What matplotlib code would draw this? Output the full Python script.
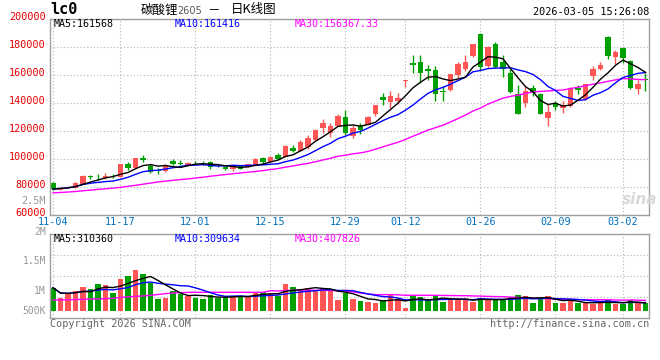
import matplotlib
matplotlib.use("Agg")
import matplotlib.pyplot as plt
import matplotlib.transforms as mtransforms
import numpy as np
import pandas as pd

# trading days shown (month-day)
dates = ["11-04", "11-05", "11-06", "11-07", "11-10", "11-11", "11-12", "11-13", "11-14",
         "11-17", "11-18", "11-19", "11-20", "11-21", "11-24", "11-25", "11-26", "11-27", "11-28",
         "12-01", "12-02", "12-03", "12-04", "12-05", "12-08", "12-09", "12-10", "12-11", "12-12",
         "12-15", "12-16", "12-17", "12-18", "12-19", "12-22", "12-23", "12-24", "12-25", "12-26",
         "12-29", "12-30", "12-31", "01-05", "01-06", "01-07", "01-08", "01-09",
         "01-12", "01-13", "01-14", "01-15", "01-16", "01-19", "01-20", "01-21", "01-22", "01-23",
         "01-26", "01-27", "01-28", "01-29", "01-30", "02-02", "02-03", "02-04", "02-05", "02-06",
         "02-09", "02-10", "02-11", "02-12", "02-13", "02-24", "02-25", "02-26", "02-27",
         "03-02", "03-03", "03-04", "03-05"]
tick_labels = ["11-04", "11-17", "12-01", "12-15", "12-29", "01-12", "01-26", "02-09", "03-02"]

opens = [82700, 78100, 79800, 79500, 82400, 88200, 87500, 86300, 88000, 87500,
         96600, 93700, 100500, 94700, 92000, 91600, 98300, 97400, 95400, 97400,
         97400, 97600, 95000, 94500, 92900, 95000, 94500, 96000, 100500, 98200,
         102600, 101700, 108000, 105900, 108900, 113900, 121800, 118900, 123800, 130200,
         116200, 123700, 124300, 131900, 144300, 140700, 141400, 156000, 168600, 169300,
         164500, 163600, 148600, 149300, 160000, 164000, 173600, 189500, 166400, 182400,
         169300, 161700, 146400, 140200, 151000, 146700, 129000, 140200, 136700, 137900,
         151000, 142600, 159300, 164500, 187100, 173100, 179500, 170000, 150200, 157100]
highs = [83500, 79600, 81000, 83300, 88300, 88900, 89200, 89900, 89500, 96500,
         97600, 101000, 103000, 96100, 93300, 96100, 100000, 99300, 98000, 98800,
         98600, 98800, 95500, 95000, 95900, 95200, 96700, 100500, 101500, 102000,
         104000, 110000, 110000, 113300, 117000, 121200, 128800, 125500, 131900, 135200,
         124400, 125700, 130700, 138800, 147400, 148600, 147400, 156500, 174500, 174500,
         166900, 166400, 152100, 161000, 169500, 174300, 182400, 190200, 180700, 183800,
         174000, 164000, 152900, 151900, 152600, 147000, 139000, 141400, 141400, 151200,
         152900, 153800, 166400, 169500, 187900, 177600, 180000, 170700, 156200, 161700]
lows = [77800, 78000, 79000, 79000, 82400, 86000, 85000, 86000, 86200, 87000,
        92300, 93700, 97700, 90300, 89600, 91000, 95400, 95400, 95400, 95400,
        95900, 92600, 94300, 91900, 91200, 92900, 94000, 95500, 97400, 98000,
        99600, 101500, 104800, 105500, 106900, 113800, 118300, 115900, 123800, 117500,
        114900, 117700, 124000, 131000, 138300, 136700, 139000, 151700, 161700, 154000,
        156200, 141400, 141400, 148600, 158100, 162900, 172900, 163300, 165200, 165000,
        158600, 147100, 132400, 137100, 145000, 132000, 123600, 134800, 133100, 137400,
        146700, 142400, 156400, 163600, 171200, 168100, 168800, 149800, 146200, 148600]
closes = [78500, 79500, 80200, 83000, 88100, 86800, 87000, 87700, 87600, 96200,
          93300, 100400, 99000, 90900, 91100, 95400, 96100, 96400, 96900, 96900,
          96800, 94500, 94800, 92600, 94700, 93100, 96700, 100100, 97600, 101700,
          100100, 109500, 106000, 111800, 115300, 120900, 125500, 123800, 130900, 118900,
          122500, 121000, 130000, 138600, 142100, 145000, 143800, 156400, 167100, 161700,
          163100, 146200, 147900, 161000, 167600, 169500, 182400, 165700, 180200, 165700,
          164000, 147900, 132400, 148600, 147400, 132400, 133800, 137100, 138300, 151000,
          149500, 153300, 164000, 167100, 173800, 176400, 171900, 151000, 153800, 156400]
# MA30 of price before a full 30-day window is available
ma30_head = [75800, 76100, 76400, 76800, 77300, 77800, 78300, 78700, 79200, 79800,
             80500, 81200, 82000, 82800, 83600, 84200, 84800, 85300, 85800, 86400,
             87000, 87700, 88300, 88900, 89500, 90000, 90600, 91100, 91700]

volumes = [721, 468, 571, 651, 746, 690, 810, 786, 587, 929,
           1000, 1143, 1048, 825, 452, 484, 651, 563, 524, 484,
           452, 548, 484, 508, 524, 508, 524, 627, 627, 587,
           524, 810, 746, 690, 721, 643, 714, 690, 428, 603,
           452, 405, 381, 357, 428, 548, 452, 246, 524, 508,
           428, 524, 381, 444, 460, 452, 381, 484, 428, 452,
           444, 500, 548, 524, 357, 476, 524, 357, 357, 405,
           357, 357, 333, 389, 428, 333, 333, 428, 349, 349]
vol_ma30_head = [428, 430, 432, 440, 445, 450, 455, 460, 470, 490,
                 505, 515, 525, 540, 560, 580, 595, 605, 610, 612,
                 612, 612, 612, 612, 612, 612, 612, 612, 612]

RED = "#ff5555"
GREEN = "#00a000"
GRID = "#b4b4b4"
FRAME = "#a0a0a0"
MONO = "DejaVu Sans Mono"
CJK = ["Noto Sans CJK SC", "DejaVu Sans"]

o = np.array(opens, float)
h = np.array(highs, float)
l = np.array(lows, float)
c = np.array(closes, float)
v = np.array(volumes, float) * 1000
n = len(c)
x = np.arange(n)
up = c >= o
cols = np.where(up, RED, GREEN)

cs = pd.Series(c)
ma5 = cs.rolling(5, min_periods=1).mean()
ma10 = cs.rolling(10, min_periods=1).mean()
ma30 = cs.rolling(30).mean()
ma30[:len(ma30_head)] = ma30_head

vs = pd.Series(v)
vma5 = vs.rolling(5, min_periods=1).mean()
vma10 = vs.rolling(10, min_periods=1).mean()
vma30 = vs.rolling(30).mean()
vma30[:len(vol_ma30_head)] = np.array(vol_ma30_head) * 1000

W, H = 660, 360
fig = plt.figure(figsize=(W / 100, H / 100), dpi=100)
ax = fig.add_axes([50 / W, 1 - 215 / H, 599 / W, 196 / H])
axv = fig.add_axes([50 / W, 1 - 318 / H, 599 / W, 84 / H])

tick_pos = [dates.index(t) for t in tick_labels]

# candles
ax.vlines(x, l, h, colors=cols, lw=1)
ax.bar(x, np.maximum(np.abs(c - o), 500), bottom=np.minimum(o, c),
       width=0.76, color=cols, linewidth=0)
ax.plot(x, ma30, color="#ff00ff", lw=1)
ax.plot(x, ma10, color="#0000ff", lw=1)
ax.plot(x, ma5, color="black", lw=1)

ax.set_xlim(-0.4, 79.47)
ax.set_ylim(60000, 200000)
ax.set_yticks(np.arange(60000, 200001, 20000))
ax.set_yticklabels([str(t) for t in range(60000, 200001, 20000)])
ax.set_xticks(tick_pos)
ax.set_xticklabels(tick_labels)
ax.tick_params(axis="y", length=0, pad=3, labelsize=7.3, labelcolor="#e60000")
ax.tick_params(axis="x", length=0, pad=1.5, labelsize=7.3, labelcolor="#0070c0")
for lab in ax.get_yticklabels() + ax.get_xticklabels():
    lab.set_fontfamily(MONO)
shift = mtransforms.ScaledTranslation(0, 0.03, fig.dpi_scale_trans)
for lab in ax.get_yticklabels():
    lab.set_transform(lab.get_transform() + shift)
ax.grid(True, color=GRID, linestyle=(0, (1, 2)), lw=0.8)
ax.set_axisbelow(True)

# volume
axv.bar(x, v - 160000, bottom=160000, width=0.76, color=cols, linewidth=0)
axv.plot(x, vma30, color="#ff00ff", lw=1)
axv.plot(x, vma10, color="#0000ff", lw=1)
axv.plot(x, vma5, color="black", lw=1)
axv.set_xlim(-0.4, 79.47)
axv.set_ylim(0, 2000000)
axv.set_yticks([500000, 1000000, 1500000])
axv.set_xticks(tick_pos)
axv.tick_params(length=0, labelleft=False, labelbottom=False)
axv.grid(True, color=GRID, linestyle=(0, (1, 2)), lw=0.8)
axv.set_axisbelow(True)

for a in (ax, axv):
    for s in a.spines.values():
        s.set_color(FRAME)
        s.set_linewidth(1)


def ftext(px, py, s, **kw):
    kw.setdefault("fontfamily", MONO)
    kw.setdefault("va", "center")
    fig.text(px / W, 1 - py / H, s, **kw)


# header
ftext(50, 10, "lc0", fontsize=11, fontweight="bold")
ftext(141, 10, "碳酸锂", fontsize=9, fontfamily=CJK)
ftext(177, 10.5, "2605", fontsize=7, fontfamily="DejaVu Sans", color="#555555")
ftext(207, 10, "－", fontsize=9, fontfamily=CJK)
ftext(231, 10, "日K线图", fontsize=9, fontfamily=CJK)
ftext(649, 12, "2026-03-05 15:26:08", fontsize=7.3, ha="right")

ftext(54, 24, "MA5:161568", fontsize=7.2, color="black")
ftext(175, 24, "MA10:161416", fontsize=7.2, color="#0000ff")
ftext(295, 24, "MA30:156367.33", fontsize=7.2, color="#ff00ff")
ftext(46, 201, "2.5M", fontsize=7.3, color="#999999", ha="right")
ftext(640, 199, "sina", fontsize=11, color="#d8d8d8", fontfamily="DejaVu Sans",
      fontweight="bold", style="italic", ha="center")

ftext(54, 239, "MA5:310360", fontsize=7.2, color="black")
ftext(175, 239, "MA10:309634", fontsize=7.2, color="#0000ff")
ftext(295, 239, "MA30:407826", fontsize=7.2, color="#ff00ff")
for lab, py in [("2M", 232), ("1.5M", 261), ("1M", 291), ("500K", 311)]:
    ftext(46, py, lab, fontsize=7, color="#999999", ha="right")

ftext(50, 324, "Copyright 2026 SINA.COM", fontsize=7.3, color="#666666")
ftext(649, 324, "http://finance.sina.com.cn", fontsize=7.3, color="#666666", ha="right")

fig.savefig("out.png", dpi=100, facecolor="white")
